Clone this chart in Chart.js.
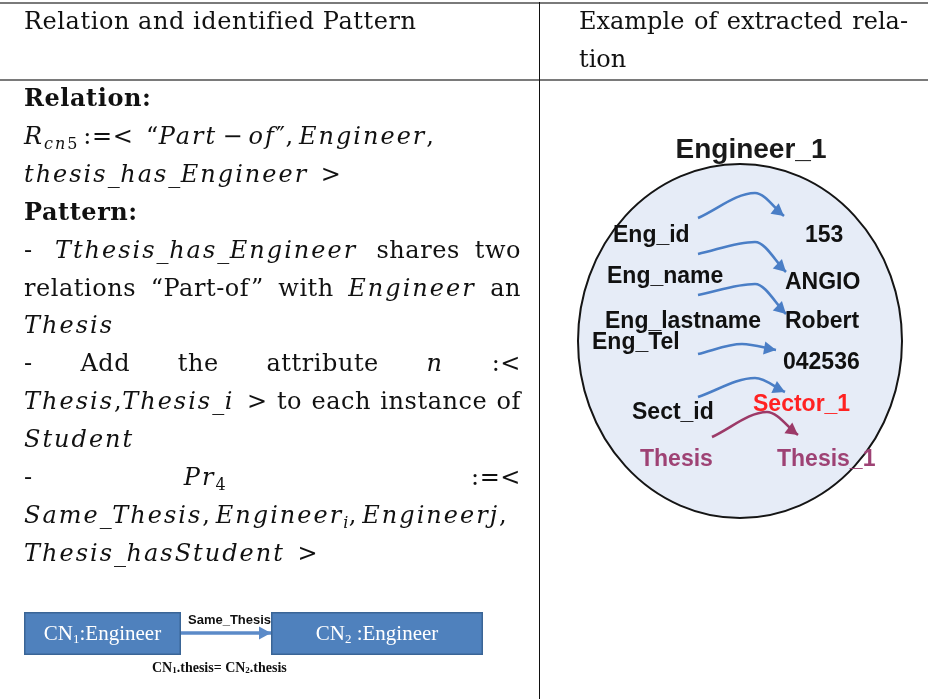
<!DOCTYPE html>
<html><head><meta charset="utf-8">
<script src="https://cdn.jsdelivr.net/npm/chart.js@4/dist/chart.umd.min.js"></script>
<style>
html,body{margin:0;padding:0;background:#fff;}
body{width:928px;height:699px;overflow:hidden;position:relative;font-family:"DejaVu Serif",serif;font-size:24px;color:#111;}
#chart{position:absolute;left:0;top:0;z-index:0;letter-spacing:0;}
.rule{position:absolute;z-index:1;}
.line{position:absolute;height:38px;line-height:38px;white-space:nowrap;z-index:2;letter-spacing:0.55px;}
.just{display:flex;}
.tight{letter-spacing:0;}
i{letter-spacing:2px;}
sub{font-size:16px;vertical-align:-5px;line-height:0;letter-spacing:0.5px;}
</style></head>
<body>
<canvas id="chart" width="928" height="699"></canvas>
<div id="table"></div>
<script>
// ---------- DATA ----------
const columnHeaders = ["Relation and identified Pattern", "Example of extracted relation"];
const headerRightLines = [["Example","of","extracted","rela-"], ["tion"]];
// left column lines: [html, justified?, gap weights]
const leftLines = [
  ["<b>Relation:</b>", false],
  ["<i>R</i><sub><i>cn</i>5</sub>&thinsp;:=&lt;&ensp;“<i>Part</i>&thinsp;−&thinsp;<i>of</i>″,&thinsp;<i>Engineer</i>,", false],
  ["<i>thesis</i>_<i>has</i>_<i>Engineer</i>&ensp;&gt;", false],
  ["<b>Pattern:</b>", false],
  [["-", "<i>Tthesis</i>_<i>has</i>_<i>Engineer</i>", "shares", "two"], true, [1.5, 1.3, 1]],
  [["relations", "“Part-of”", "with", "<i>Engineer</i>", "an"], true],
  ["<i>Thesis</i>", false],
  [["-", "Add", "the", "attribute", "<i>n</i>", ":&lt;"], true],
  [["<i>Thesis</i>,<i>Thesis</i>_<i>i</i>&ensp;&gt;", "to", "each", "instance", "of"], true],
  ["<i>Student</i>", false],
  [["-", "<i>Pr</i><sub>4</sub>", ":=&lt;"], true, [1, 1.62]],
  ["<i>Same</i>_<i>Thesis</i>,&thinsp;<i>Engineer<sub>i</sub></i>,&thinsp;<i>Engineerj</i>,", false],
  ["<i>Thesis</i>_<i>hasStudent</i>&ensp;&gt;", false]
];
const entityTitle = "Engineer_1";
const attributeNames = ["Eng_id", "Eng_name", "Eng_lastname", "Eng_Tel", "Sect_id", "Thesis"];
const attributeValues = ["153", "ANGIO", "Robert", "042536", "Sector_1", "Thesis_1"];
const conceptIds = ["1", "2"];
const conceptClass = "Engineer";
const relationName = "Same_Thesis";
const conditionParts = [["CN", "1", ".thesis= "], ["CN", "2", ".thesis"]];

// ---------- LAYOUT (axis units) ----------
const L = {
  ellipse: {cx: 740, cy: 341, rx: 162, ry: 177},
  title: {x: 751, y: 150},
  names: [[613, 236], [607, 277], [605, 322], [592, 343], [632, 413], [640, 460]],
  values: [[805, 236], [785, 283], [785, 322], [783, 363], [753, 405], [777, 460]],
  arrows: [
    [[698, 218], [755, 193], [784, 216]],
    [[698, 254], [755, 242], [786, 272]],
    [[698, 295], [755, 284], [786, 314]],
    [[698, 354], [742, 344], [776, 350]],
    [[698, 397], [755, 378], [785, 392]],
    [[712, 437], [767, 412], [798, 435]]
  ],
  boxes: [[24, 612, 181, 655], [271, 612, 483, 655]],
  relArrow: [[181, 633], [271, 633]],
  relLabel: [188, 620],
  condLabel: [152, 668]
};
const arrowColors = ["#4a7ec6", "#4a7ec6", "#4a7ec6", "#4a7ec6", "#4a7ec6", "#9c3a68"];
const valueColors = ["#111", "#111", "#111", "#111", "#ff2222", "#9e4274"];
const nameColors = ["#111", "#111", "#111", "#111", "#111", "#9e4274"];

// ---------- TABLE (HTML) ----------
const T = document.getElementById('table');
function rule(l, t, w, h, c) { const d = document.createElement('div'); d.className = 'rule'; Object.assign(d.style, {left: l + 'px', top: t + 'px', width: w + 'px', height: h + 'px', background: c}); T.appendChild(d); }
rule(0, 2, 928, 2, '#7a7a7a');
rule(0, 79, 928, 2, '#7a7a7a');
rule(539, 2, 1, 697, '#111');
function addLine(left, top, width, content, just, weights, extra) {
  const d = document.createElement('div');
  d.className = 'line' + (just ? ' just' : '') + (extra ? ' ' + extra : '');
  d.style.left = left + 'px'; d.style.top = top + 'px'; d.style.width = width + 'px';
  if (just) content.forEach((w, k) => {
    if (k > 0) { const g = document.createElement('span'); g.style.flexGrow = weights ? weights[k - 1] : 1; d.appendChild(g); }
    const s = document.createElement('span'); s.innerHTML = w; d.appendChild(s);
  });
  else d.innerHTML = content;
  T.appendChild(d);
}
addLine(24, 2, 500, columnHeaders[0], false);
addLine(579, 2, 329, headerRightLines[0], true, null, 'tight');
addLine(579, 40, 329, headerRightLines[1].join(' '), false, null, 'tight');
leftLines.forEach((ln, k) => addLine(24, 79 + k * 37.9, 497, ln[0], ln[1], ln[2]));

// ---------- CHART ----------
function arrowHead(ctx, tx, ty, fx, fy, size, color) {
  const a = Math.atan2(ty - fy, tx - fx), w = size * 0.55;
  ctx.save(); ctx.fillStyle = color; ctx.beginPath();
  ctx.moveTo(tx, ty);
  ctx.lineTo(tx - size * Math.cos(a) + w * Math.sin(a), ty - size * Math.sin(a) - w * Math.cos(a));
  ctx.lineTo(tx - size * Math.cos(a) - w * Math.sin(a), ty - size * Math.sin(a) + w * Math.cos(a));
  ctx.closePath(); ctx.fill(); ctx.restore();
}
const datasets = L.arrows.map((p, i) => ({
  label: attributeNames[i] + '→' + attributeValues[i],
  data: p.map(q => ({x: q[0], y: q[1]})),
  showLine: true, cubicInterpolationMode: 'monotone', borderColor: arrowColors[i], borderWidth: 2.6, pointRadius: 0, fill: false
}));
datasets.push({
  label: relationName, data: L.relArrow.map(q => ({x: q[0], y: q[1]})),
  showLine: true, tension: 0, borderColor: '#5b8ac8', borderWidth: 3.5, pointRadius: 0, fill: false
});
const diagramPlugin = {
  id: 'diagram',
  beforeDatasetsDraw(chart) {
    const {ctx, scales: {x, y}} = chart;
    const e = L.ellipse;
    ctx.save();
    ctx.beginPath();
    ctx.ellipse(x.getPixelForValue(e.cx), y.getPixelForValue(e.cy), x.getPixelForValue(e.cx + e.rx) - x.getPixelForValue(e.cx), y.getPixelForValue(e.cy + e.ry) - y.getPixelForValue(e.cy), 0, 0, Math.PI * 2);
    ctx.fillStyle = '#e6ecf7'; ctx.fill();
    ctx.lineWidth = 2; ctx.strokeStyle = '#151515'; ctx.stroke();
    L.boxes.forEach(b => {
      const x0 = x.getPixelForValue(b[0]), y0 = y.getPixelForValue(b[1]), x1 = x.getPixelForValue(b[2]), y1 = y.getPixelForValue(b[3]);
      ctx.fillStyle = '#4f81bd'; ctx.fillRect(x0, y0, x1 - x0, y1 - y0);
      ctx.lineWidth = 1.5; ctx.strokeStyle = '#3a6596'; ctx.strokeRect(x0 + 0.75, y0 + 0.75, x1 - x0 - 1.5, y1 - y0 - 1.5);
    });
    ctx.restore();
  },
  afterDatasetsDraw(chart) {
    const {ctx, scales: {x, y}} = chart;
    chart.data.datasets.forEach((ds, i) => {
      const meta = chart.getDatasetMeta(i);
      const pts = meta.data, last = pts[pts.length - 1], prev = pts[pts.length - 2];
      let fx = prev.x, fy = prev.y;
      if (ds.cubicInterpolationMode === 'monotone' && last.cp1x !== undefined) { fx = last.cp1x; fy = last.cp1y; }
      arrowHead(ctx, last.x, last.y, fx, fy, 12, ds.borderColor);
    });
    ctx.save();
    if ('letterSpacing' in ctx) ctx.letterSpacing = '0px';
    ctx.textBaseline = 'middle';
    ctx.fillStyle = '#1a1a1a'; ctx.textAlign = 'center';
    ctx.font = 'bold 28px "Liberation Sans", Arial, sans-serif';
    ctx.fillText(entityTitle, x.getPixelForValue(L.title.x), y.getPixelForValue(L.title.y));
    ctx.textAlign = 'left';
    ctx.font = 'bold 23px "Liberation Sans", Arial, sans-serif';
    attributeNames.forEach((n, i) => {
      ctx.fillStyle = nameColors[i];
      ctx.fillText(n, x.getPixelForValue(L.names[i][0]), y.getPixelForValue(L.names[i][1]));
    });
    attributeValues.forEach((v, i) => {
      ctx.fillStyle = valueColors[i];
      ctx.fillText(v, x.getPixelForValue(L.values[i][0]), y.getPixelForValue(L.values[i][1]));
    });
    ctx.fillStyle = '#fff';
    L.boxes.forEach((b, i) => {
      const big = '21px "Liberation Serif", serif', small = '13px "Liberation Serif", serif';
      const rest = (i === 0 ? ':' : ' :') + conceptClass;
      ctx.font = big; const w1 = ctx.measureText('CN').width, w3 = ctx.measureText(rest).width;
      ctx.font = small; const w2 = ctx.measureText(conceptIds[i]).width;
      const cx = (x.getPixelForValue(b[0]) + x.getPixelForValue(b[2])) / 2, cy = (y.getPixelForValue(b[1]) + y.getPixelForValue(b[3])) / 2 + 1;
      let sx = cx - (w1 + w2 + w3) / 2;
      ctx.font = big; ctx.fillText('CN', sx, cy); sx += w1;
      ctx.font = small; ctx.fillText(conceptIds[i], sx, cy + 5); sx += w2;
      ctx.font = big; ctx.fillText(rest, sx, cy);
    });
    ctx.fillStyle = '#111';
    ctx.font = 'bold 13px "Liberation Sans", Arial, sans-serif';
    ctx.fillText(relationName, x.getPixelForValue(L.relLabel[0]), y.getPixelForValue(L.relLabel[1]));
    let sx = x.getPixelForValue(L.condLabel[0]); const cy = y.getPixelForValue(L.condLabel[1]);
    conditionParts.forEach(p => {
      ctx.font = 'bold 14px "Liberation Serif", serif'; ctx.fillText(p[0], sx, cy); sx += ctx.measureText(p[0]).width;
      ctx.font = 'bold 9px "Liberation Serif", serif'; ctx.fillText(p[1], sx, cy + 3); sx += ctx.measureText(p[1]).width;
      ctx.font = 'bold 14px "Liberation Serif", serif'; ctx.fillText(p[2], sx, cy); sx += ctx.measureText(p[2]).width;
    });
    ctx.restore();
  }
};
new Chart(document.getElementById('chart'), {
  type: 'scatter',
  data: {datasets},
  options: {
    responsive: false, animation: false, devicePixelRatio: 1,
    layout: {padding: 0},
    plugins: {legend: {display: false}, tooltip: {enabled: false}},
    scales: {
      x: {type: 'linear', min: 0, max: 928, display: false},
      y: {type: 'linear', min: 0, max: 699, reverse: true, display: false}
    }
  },
  plugins: [diagramPlugin]
});
</script>
</body></html>
